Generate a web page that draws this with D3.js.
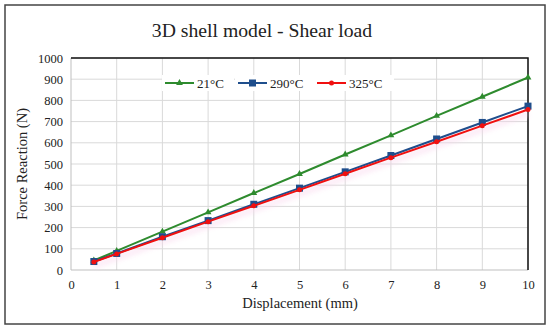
<!DOCTYPE html>
<html>
<head>
<meta charset="utf-8">
<script src="https://cdn.jsdelivr.net/npm/d3@7"></script>
<style>
  body { margin: 0; background: #fff; }
  text { font-family: "Liberation Serif", "Times New Roman", serif; fill: #222; }
</style>
</head>
<body>
<svg width="550" height="331"></svg>
<script>
// chart data
const displacement = [0.5, 1, 2, 3, 4, 5, 6, 7, 8, 9, 10];
const force21 = [45, 90, 181, 272, 363, 453, 545, 635, 727, 817, 908];
const force290 = [40, 78, 157, 233, 310, 386, 463, 540, 618, 696, 773];
const force325 = [38, 76, 152, 228, 303, 378, 454, 530, 605, 681, 757];
const xTicks = [0, 1, 2, 3, 4, 5, 6, 7, 8, 9, 10];
const yTicks = [0, 100, 200, 300, 400, 500, 600, 700, 800, 900, 1000];

const series = [
  { name: "21°C", values: force21, color: "#2e8b2e", marker: "triangle" },
  { name: "290°C", values: force290, color: "#1f4e8c", marker: "square" },
  { name: "325°C", values: force325, color: "#f01010", marker: "circle" }
];

const svg = d3.select("svg");

// outer frame
svg.append("rect")
  .attr("x", 5).attr("y", 5)
  .attr("width", 540).attr("height", 319)
  .attr("fill", "none")
  .attr("stroke", "#444")
  .attr("stroke-width", 1.5);

const plotLeft = 71, plotRight = 528, plotTop = 58, plotBottom = 270;
const x = d3.scaleLinear().domain([0, 10]).range([plotLeft, plotRight]);
const y = d3.scaleLinear().domain([0, 1000]).range([plotBottom, plotTop]);

// gridlines
svg.append("g")
  .selectAll("line")
  .data(xTicks.slice(1))
  .enter()
  .append("line")
  .attr("x1", d => x(d)).attr("x2", d => x(d))
  .attr("y1", plotTop).attr("y2", plotBottom)
  .attr("stroke", "#d9d9d9");

svg.append("g")
  .selectAll("line")
  .data(yTicks.slice(1))
  .enter()
  .append("line")
  .attr("x1", plotLeft).attr("x2", plotRight)
  .attr("y1", d => y(d)).attr("y2", d => y(d))
  .attr("stroke", "#d9d9d9");

// left and bottom axis lines (gray)
svg.append("line").attr("x1", plotLeft).attr("x2", plotLeft).attr("y1", plotTop).attr("y2", plotBottom).attr("stroke", "#bfbfbf");
svg.append("line").attr("x1", plotLeft).attr("x2", plotRight).attr("y1", plotBottom).attr("y2", plotBottom).attr("stroke", "#bfbfbf");
// top and right borders (black)
svg.append("path")
  .attr("d", `M${plotLeft},${plotTop}H${plotRight}V${plotBottom}`)
  .attr("fill", "none")
  .attr("stroke", "#111")
  .attr("stroke-width", 1.5);

// tick labels
const xAxis = d3.axisBottom(x).tickValues(xTicks).tickSize(0).tickPadding(10);
svg.append("g")
  .attr("transform", `translate(0,${plotBottom})`)
  .call(xAxis)
  .attr("font-family", "Liberation Serif")
  .attr("font-size", 12.5)
  .call(g => g.select(".domain").remove())
  .selectAll("text")
  .attr("fill", "#222");

const yAxis = d3.axisLeft(y).tickValues(yTicks).tickFormat(d3.format("d")).tickSize(0).tickPadding(8);
svg.append("g")
  .attr("transform", `translate(${plotLeft},0)`)
  .call(yAxis)
  .attr("font-family", "Liberation Serif")
  .attr("font-size", 12.5)
  .call(g => g.select(".domain").remove())
  .selectAll("text")
  .attr("fill", "#222");

// titles
svg.append("text")
  .attr("x", 262).attr("y", 37)
  .attr("text-anchor", "middle")
  .style("font-size", "19.7px")
  .text("3D shell model - Shear load");

svg.append("text")
  .attr("x", 300).attr("y", 308)
  .attr("text-anchor", "middle")
  .style("font-size", "14.5px")
  .text("Displacement (mm)");

svg.append("text")
  .attr("transform", "translate(27,164) rotate(-90)")
  .attr("text-anchor", "middle")
  .style("font-size", "14.5px")
  .text("Force Reaction (N)");

// soft pink shadow under the lines
const defs = svg.append("defs");
defs.append("filter").attr("id", "blur")
  .attr("x", "-20%").attr("y", "-20%").attr("width", "140%").attr("height", "140%")
  .append("feGaussianBlur").attr("stdDeviation", 2.5);

const line = d3.line()
  .x((d, i) => x(displacement[i]))
  .y(d => y(d));

svg.append("path")
  .datum(force325)
  .attr("d", line)
  .attr("transform", "translate(0,4)")
  .attr("fill", "none")
  .attr("stroke", "#f9d3ec")
  .attr("stroke-width", 6)
  .attr("opacity", 0.45)
  .attr("filter", "url(#blur)");

// lines and markers
function drawMarker(g, type, cx, cy, color, s) {
  if (type === "triangle") {
    g.append("path")
      .attr("d", d3.symbol().type(d3.symbolTriangle).size(s * 4)())
      .attr("transform", `translate(${cx},${cy})`)
      .attr("fill", color);
  } else if (type === "square") {
    g.append("rect")
      .attr("x", cx - s / 2).attr("y", cy - s / 2)
      .attr("width", s).attr("height", s)
      .attr("fill", color);
  } else {
    g.append("circle")
      .attr("cx", cx).attr("cy", cy).attr("r", s / 2)
      .attr("fill", color);
  }
}

const sizes = { triangle: 5, square: 7, circle: 5 };

series.forEach(s => {
  svg.append("path")
    .datum(s.values)
    .attr("d", line)
    .attr("fill", "none")
    .attr("stroke", s.color)
    .attr("stroke-width", 2);
  const g = svg.append("g");
  s.values.forEach((v, i) => drawMarker(g, s.marker, x(displacement[i]), y(v), s.color, sizes[s.marker]));
});

// legend
const legendX = [165, 238, 317];
series.forEach((s, i) => {
  const g = svg.append("g").attr("transform", `translate(${legendX[i]},83)`);
  g.append("rect").attr("x", -3).attr("y", -8).attr("width", s.name.length * 8 + 40).attr("height", 16).attr("fill", "#fff");
  g.append("line").attr("x1", 0).attr("x2", 29).attr("y1", 0).attr("y2", 0)
    .attr("stroke", s.color).attr("stroke-width", 2);
  drawMarker(g, s.marker, 14.5, 0, s.color, sizes[s.marker]);
  g.append("text")
    .attr("x", 32).attr("y", 5)
    .style("font-size", "13px")
    .text(s.name);
});
</script>
</body>
</html>
